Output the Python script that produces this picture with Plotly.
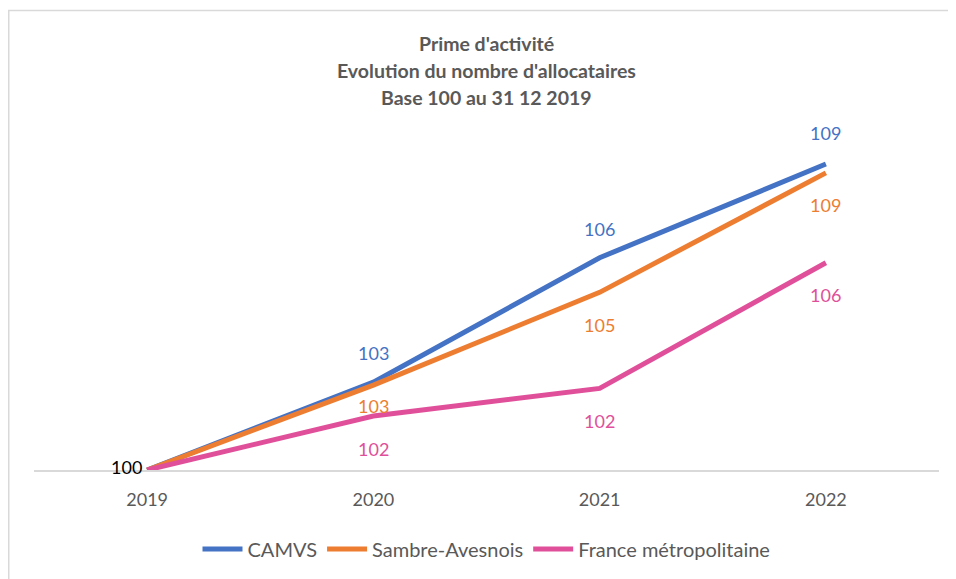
import plotly.graph_objects as go

years = ["2019", "2020", "2021", "2022"]
camvs = [100, 102.67, 106.45, 109.3]
sambre = [100, 102.58, 105.4, 109.03]
france = [100, 101.64, 102.48, 106.3]

title_lines = ["Prime d'activité", "Evolution du nombre d'allocataires", "Base 100 au 31 12 2019"]

series = [
    ("CAMVS", camvs, "#4472C4", [None, 29, 29, 31]),
    ("Sambre-Avesnois", sambre, "#ED7D31", [None, -21, -33, -32]),
    ("France métropolitaine", france, "#E0509A", [None, -33, -33, -32]),
]

FONT = "Lato, 'Open Sans', sans-serif"
GREY = "#595959"

fig = go.Figure()
annotations = []
for name, vals, color, offs in series:
    fig.add_trace(go.Scatter(
        x=years, y=vals, name=name, mode="lines",
        line=dict(color=color, width=5),
        cliponaxis=False,
    ))
    for i, (v, o) in enumerate(zip(vals, offs)):
        if o is None:
            continue
        annotations.append(dict(
            x=i, y=v, xref="x", yref="y", text=f"{v:.0f}", showarrow=False,
            yshift=o, font=dict(family=FONT, size=18, color=color),
            xanchor="center", yanchor="middle",
        ))

annotations.append(dict(
    x=0, y=camvs[0], xref="x", yref="y", text=f"{camvs[0]:.0f}",
    showarrow=False, xshift=-3, yshift=3, xanchor="right", yanchor="middle",
    font=dict(family=FONT, size=18, color="#000000"),
))

for i, line in enumerate(title_lines):
    annotations.append(dict(
        x=0.5, y=[1.297, 1.215, 1.133][i], xref="paper", yref="paper",
        text=f"<b>{line}</b>", showarrow=False, xanchor="center", yanchor="middle",
        font=dict(family=FONT, size=19.5, color=GREY),
    ))

fig.update_layout(
    width=948, height=571,
    margin=dict(l=26, r=17, t=133, b=108),
    paper_bgcolor="white", plot_bgcolor="white",
    showlegend=True,
    legend=dict(orientation="h", x=0.5, xanchor="center", y=-0.236, yanchor="middle",
                font=dict(family=FONT, size=20, color=GREY), itemwidth=40,
                tracegroupgap=0),
    xaxis=dict(type="category", range=[-0.5, 3.5], showgrid=False, zeroline=False,
               showline=True, linecolor="#D9D9D9", linewidth=1.5,
               tickfont=dict(family=FONT, size=18, color=GREY), ticks="",
               ticklabelstandoff=13),
    yaxis=dict(range=[100, 110], visible=False, showgrid=False, zeroline=False),
    annotations=annotations,
    shapes=[dict(type="rect", xref="paper", yref="paper",
                 x0=-0.0279, y0=-0.6, x1=1.2, y1=1.397,
                 line=dict(color="#D9D9D9", width=1.5), fillcolor="rgba(0,0,0,0)")],
)

fig.write_html("out.html")
